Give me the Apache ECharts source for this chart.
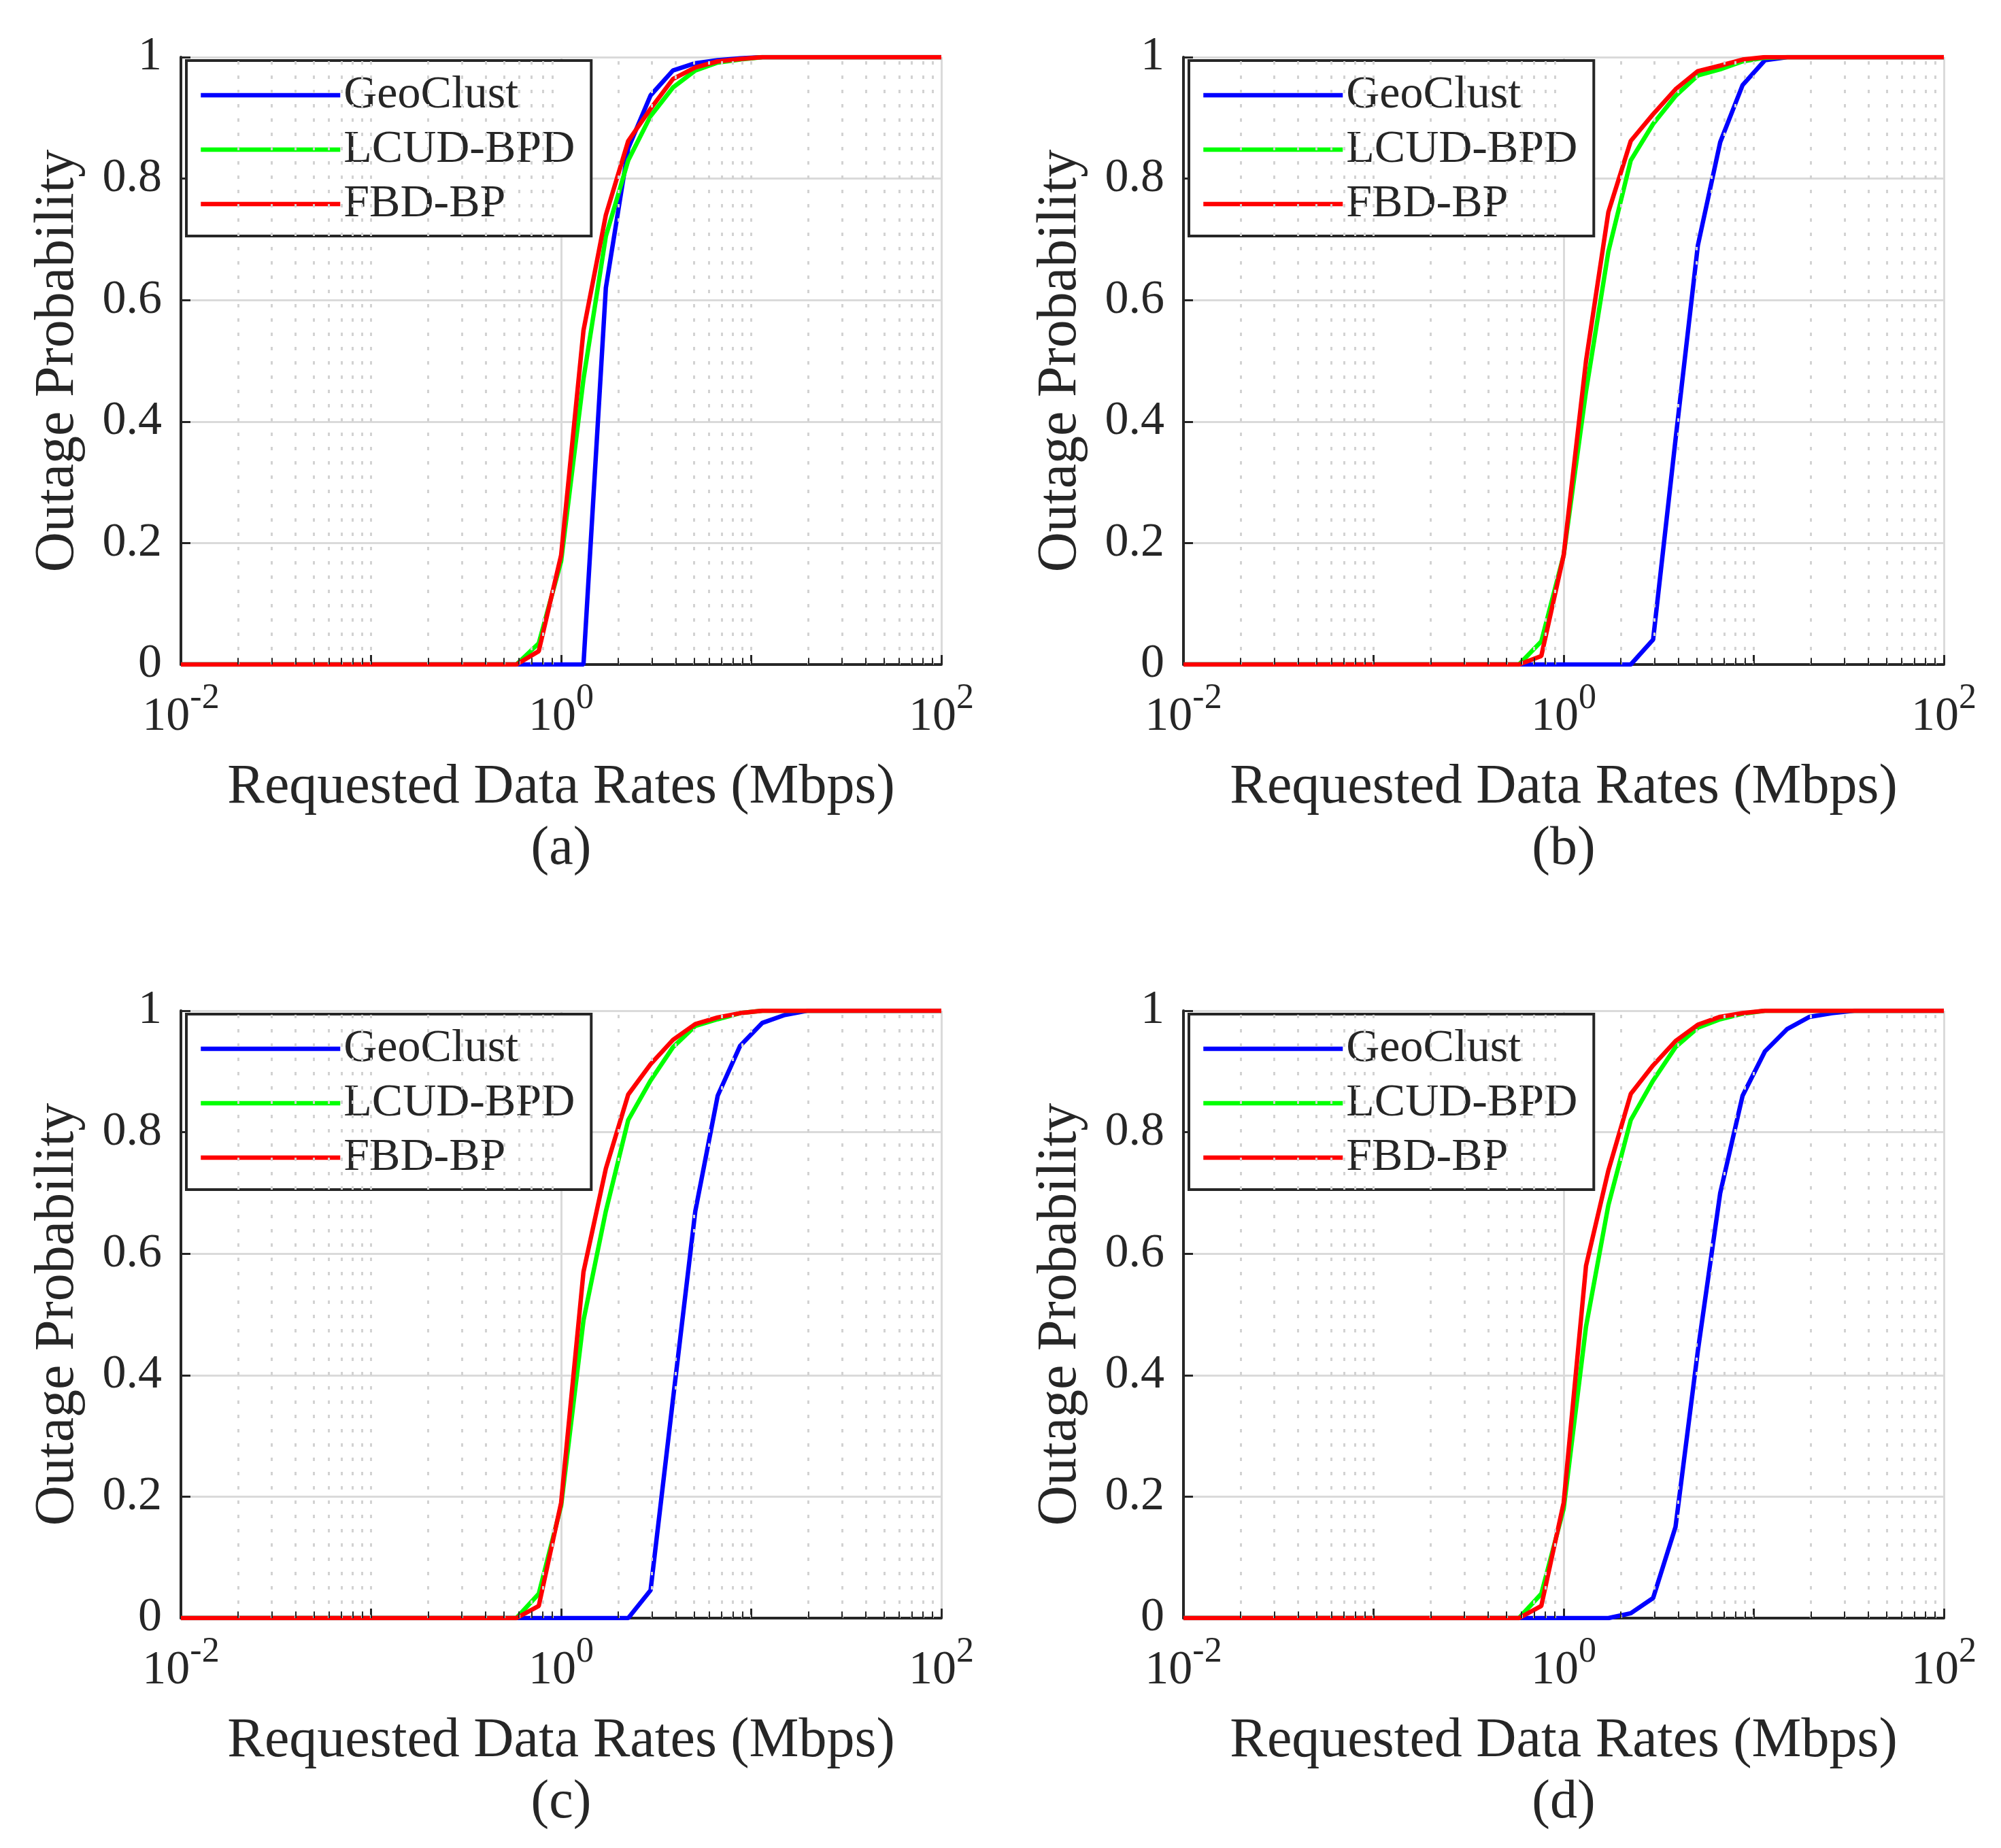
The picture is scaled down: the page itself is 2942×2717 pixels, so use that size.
<!DOCTYPE html>
<html>
<head>
<meta charset="utf-8">
<title>Outage probability vs requested data rate</title>
<script src="https://cdn.jsdelivr.net/npm/echarts@6/dist/echarts.min.js"></script>
<style>
    html, body { margin: 0; padding: 0; background: #fff; }
    #chart { width: 2942px; height: 2717px; }
</style>
</head>
<body>
<div id="chart"></div>
<script>
// requested data rates (Mbps) where every curve is sampled
var rates = [0.01, 0.5817, 0.7627, 1, 1.311, 1.719, 2.254, 2.955, 3.875, 5.08, 6.661, 8.733, 11.45, 15.01, 19.68, 25.81, 33.84, 44.37, 100];

// (a)
var geoClustA = [0, 0, 0, 0, 0, 0.62, 0.85, 0.937, 0.978, 0.99, 0.995, 0.998, 1, 1, 1, 1, 1, 1, 1];
var lcudBpdA = [0, 0, 0.035, 0.17, 0.47, 0.705, 0.83, 0.903, 0.95, 0.978, 0.991, 0.996, 1, 1, 1, 1, 1, 1, 1];
var fbdBpA = [0, 0, 0.022, 0.18, 0.55, 0.74, 0.862, 0.915, 0.964, 0.983, 0.993, 0.997, 1, 1, 1, 1, 1, 1, 1];
// (b)
var geoClustB = [0, 0, 0, 0, 0, 0, 0, 0.041, 0.37, 0.69, 0.86, 0.954, 0.995, 1, 1, 1, 1, 1, 1];
var lcudBpdB = [0, 0, 0.038, 0.18, 0.45, 0.68, 0.83, 0.89, 0.936, 0.97, 0.98, 0.993, 0.999, 1, 1, 1, 1, 1, 1];
var fbdBpB = [0, 0, 0.014, 0.18, 0.5, 0.745, 0.862, 0.906, 0.947, 0.977, 0.986, 0.996, 1, 1, 1, 1, 1, 1, 1];
// (c)
var geoClustC = [0, 0, 0, 0, 0, 0, 0, 0.046, 0.36, 0.67, 0.86, 0.942, 0.98, 0.993, 1, 1, 1, 1, 1];
var lcudBpdC = [0, 0, 0.04, 0.185, 0.49, 0.67, 0.82, 0.885, 0.94, 0.975, 0.986, 0.996, 1, 1, 1, 1, 1, 1, 1];
var fbdBpC = [0, 0, 0.02, 0.19, 0.57, 0.74, 0.862, 0.912, 0.952, 0.978, 0.989, 0.996, 1, 1, 1, 1, 1, 1, 1];
// (d)
var geoClustD = [0, 0, 0, 0, 0, 0, 0.008, 0.033, 0.15, 0.44, 0.7, 0.86, 0.933, 0.97, 0.99, 0.996, 1, 1, 1];
var lcudBpdD = [0, 0, 0.04, 0.18, 0.48, 0.68, 0.82, 0.885, 0.94, 0.972, 0.986, 0.995, 1, 1, 1, 1, 1, 1, 1];
var fbdBpD = [0, 0, 0.02, 0.19, 0.58, 0.737, 0.863, 0.91, 0.95, 0.977, 0.99, 0.996, 1, 1, 1, 1, 1, 1, 1];

var seriesNames = ['GeoClust', 'LCUD-BPD', 'FBD-BP'];
var panelLabels = ['(a)', '(b)', '(c)', '(d)'];

// x tick labels (10^exp) and minor dotted grid positions
var xTickValues = [0.01, 1, 100];
var xTickExps = ['-2', '0', '2'];
var minorRates = [0.02, 0.03, 0.04, 0.05, 0.06, 0.07, 0.08, 0.09, 0.1,
    0.2, 0.3, 0.4, 0.5, 0.6, 0.7, 0.8, 0.9,
    2, 3, 4, 5, 6, 7, 8, 9, 10,
    20, 30, 40, 50, 60, 70, 80, 90];

var panelData = [
    [geoClustA, lcudBpdA, fbdBpA],
    [geoClustB, lcudBpdB, fbdBpB],
    [geoClustC, lcudBpdC, fbdBpC],
    [geoClustD, lcudBpdD, fbdBpD]
];

var FONT = 'Liberation Serif';
var INK = '#262626';
var colors = ['#0000ff', '#00ff00', '#ff0000'];
var LINE_W = 6.5;
var PW = 1118, PH = 893;
var panelPos = [
    { left: 266, top: 84 },
    { left: 1740, top: 84 },
    { left: 266, top: 1486 },
    { left: 1740, top: 1486 }
];

function pairs(ys) {
    return rates.map(function (r, i) { return [r, ys[i]]; });
}

function xLabel(v) {
    for (var i = 0; i < xTickValues.length; i++) {
        if (Math.abs(v - xTickValues[i]) < xTickValues[i] * 0.01) {
            return '{b|10}{s|' + xTickExps[i] + '}';
        }
    }
    return '';
}

var option = {
    animation: false,
    backgroundColor: '#fff',
    color: colors,
    grid: [],
    xAxis: [],
    yAxis: [],
    legend: [],
    series: [],
    graphic: []
};

panelPos.forEach(function (p, i) {
    option.grid.push({ left: p.left, top: p.top, width: PW, height: PH, containLabel: false });

    option.xAxis.push({
        gridIndex: i,
        type: 'log',
        logBase: 10,
        min: 0.01,
        max: 100,
        splitNumber: 4,
        name: 'Requested Data Rates (Mbps)',
        nameLocation: 'middle',
        nameGap: 140,
        nameTextStyle: { fontFamily: FONT, fontSize: 82, color: INK },
        axisLine: { show: true, onZero: false, lineStyle: { color: INK, width: 4 } },
        axisTick: { show: true, inside: true, length: 14, lineStyle: { color: INK, width: 3 } },
        axisLabel: {
            margin: 24,
            formatter: xLabel,
            color: INK,
            rich: {
                b: { fontFamily: FONT, fontSize: 70, color: INK },
                s: { fontFamily: FONT, fontSize: 52, color: INK, padding: [0, 0, 56, 0] }
            }
        },
        splitLine: {
            show: true,
            lineStyle: { color: ['#dadada', 'rgba(0,0,0,0)'], width: 3 }
        }
    });

    option.yAxis.push({
        gridIndex: i,
        type: 'value',
        min: 0,
        max: 1,
        interval: 0.2,
        name: 'Outage Probability',
        nameLocation: 'middle',
        nameGap: 140,
        nameTextStyle: { fontFamily: FONT, fontSize: 82, color: INK },
        axisLine: { show: true, onZero: false, lineStyle: { color: INK, width: 4 } },
        axisTick: { show: true, inside: true, length: 14, lineStyle: { color: INK, width: 3 } },
        axisLabel: { margin: 28, fontFamily: FONT, fontSize: 70, color: INK },
        splitLine: { show: true, lineStyle: { color: '#dadada', width: 3 } }
    });

    // minor dotted grid and the small minor ticks on the x axis, kept under the curves
    option.series.push({
        type: 'line',
        xAxisIndex: i,
        yAxisIndex: i,
        z: 1,
        silent: true,
        symbol: 'none',
        lineStyle: { opacity: 0 },
        data: [[0.01, 0], [100, 0]],
        markLine: {
            silent: true,
            symbol: 'none',
            label: { show: false },
            lineStyle: { color: '#d2d2d2', width: 3, type: [5, 16] },
            data: minorRates.map(function (v) { return { xAxis: v }; }).concat(
                minorRates.map(function (v) {
                    return [
                        { coord: [v, 0], lineStyle: { color: INK, width: 2, type: 'solid' } },
                        { coord: [v, 0.011] }
                    ];
                })
            )
        }
    });

    panelData[i].forEach(function (ys, k) {
        option.series.push({
            name: seriesNames[k],
            type: 'line',
            xAxisIndex: i,
            yAxisIndex: i,
            z: 3,
            symbol: 'none',
            lineStyle: { color: colors[k], width: LINE_W, type: 'solid' },
            itemStyle: { color: colors[k] },
            data: pairs(ys)
        });
    });

    option.legend.push({
        orient: 'vertical',
        left: p.left + 8,
        top: p.top + 5,
        data: seriesNames,
        selectedMode: false,
        itemWidth: 205,
        itemHeight: 4,
        itemGap: 10,
        padding: [16, 24, 12, 18],
        borderColor: INK,
        borderWidth: 4,
        borderRadius: 0,
        backgroundColor: '#fff',
        lineStyle: { width: LINE_W, type: 'solid', opacity: 1 },
        textStyle: { fontFamily: FONT, fontSize: 68, color: INK, lineHeight: 70 }
    });

    option.graphic.push({
        type: 'text',
        x: p.left + PW / 2,
        y: p.top + 1165,
        style: {
            text: panelLabels[i],
            font: '80px "Liberation Serif"',
            fill: INK,
            textAlign: 'center',
            textVerticalAlign: 'middle'
        }
    });
});

var chart = echarts.init(document.getElementById('chart'));
chart.setOption(option);
</script>
</body>
</html>
